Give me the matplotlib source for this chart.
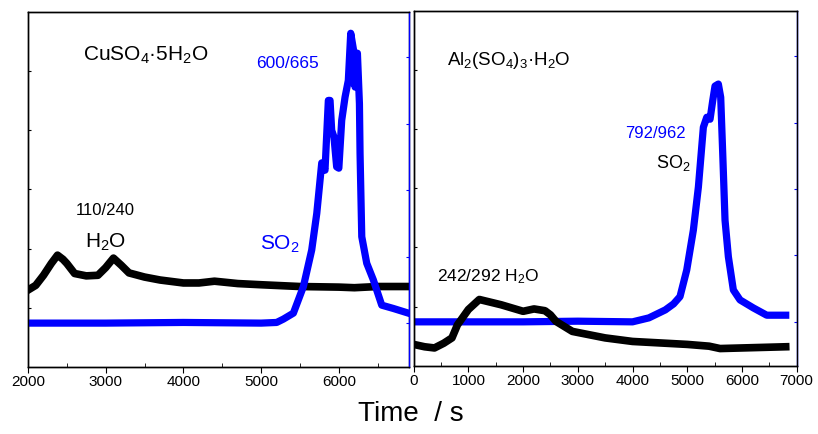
import matplotlib
matplotlib.use("Agg")
import matplotlib.pyplot as plt

plt.rcParams['font.family'] = ['Liberation Sans', 'DejaVu Sans']
plt.rcParams['mathtext.default'] = 'regular'

BLUE = '#0000ff'

# CuSO4.5H2O panel (time in s, arbitrary intensity units)
cu_h2o_t = [2000, 2100, 2200, 2300, 2380, 2450, 2500, 2600, 2750, 2900, 3000, 3100, 3200,
            3300, 3500, 3700, 4000, 4200, 4400, 4700, 5000, 5500, 6000, 6200, 6500, 6900]
cu_h2o_y = [1.30, 1.38, 1.55, 1.75, 1.89, 1.82, 1.75, 1.58, 1.54, 1.55, 1.68, 1.84, 1.72,
            1.59, 1.52, 1.47, 1.42, 1.42, 1.45, 1.41, 1.39, 1.36, 1.35, 1.34, 1.36, 1.36]

cu_so2_t = [2000, 3000, 4000, 5000, 5200, 5286, 5415, 5544, 5651, 5716, 5780, 5822,
            5865, 5887, 5908, 5937, 5972, 6000, 6037, 6080, 6122, 6153, 6196, 6209,
            6239, 6265, 6273, 6295, 6359, 6444, 6552, 6702, 6895]
cu_so2_y = [1.00, 1.00, 1.01, 1.00, 1.01, 1.06, 1.15, 1.55, 2.10, 2.65, 3.41, 3.30,
            4.35, 4.35, 3.90, 3.80, 3.35, 3.33, 4.05, 4.40, 4.65, 5.36, 5.06, 4.55,
            5.06, 4.30, 3.55, 2.30, 1.90, 1.65, 1.27, 1.22, 1.15]

# Al2(SO4)3.H2O panel
al_h2o_t = [0, 200, 380, 550, 700, 800, 1000, 1200, 1600, 2000, 2200, 2400, 2500,
            2600, 2900, 3500, 4000, 5000, 5400, 5600, 6000, 6800]
al_h2o_y = [0.36, 0.32, 0.30, 0.38, 0.47, 0.69, 0.95, 1.12, 1.03, 0.92, 0.96, 0.93,
            0.86, 0.75, 0.58, 0.47, 0.41, 0.36, 0.33, 0.29, 0.30, 0.32]

al_so2_t = [0, 1000, 2000, 3000, 4000, 4300, 4600, 4750, 4868, 4991, 5112, 5204,
            5295, 5357, 5417, 5466, 5508, 5569, 5612, 5649, 5691, 5752, 5843, 5965,
            6208, 6453, 6800]
al_so2_y = [1.00, 1.00, 1.00, 1.01, 1.00, 1.06, 1.18, 1.27, 1.38, 1.78, 2.38, 3.03,
            3.93, 4.08, 4.05, 4.33, 4.55, 4.58, 4.38, 3.53, 2.53, 1.98, 1.48, 1.33,
            1.21, 1.10, 1.10]

xticks_cu = [2000, 3000, 4000, 5000, 6000]
xticks_al = [0, 1000, 2000, 3000, 4000, 5000, 6000, 7000]


def style_panel(ax, axb, xlim, xticks):
    ax.set_xlim(*xlim)
    ax.set_ylim(0, 6)
    axb.set_ylim(0.34, 5.68)
    ax.set_xticks(xticks)
    ax.set_xticks(range(xlim[0] + 500, xlim[1], 1000), minor=True)
    ax.tick_params(axis='x', which='major', direction='out', length=4, labelsize=11, pad=2)
    ax.tick_params(axis='x', which='minor', direction='in', length=3)
    ax.set_yticks([1, 2, 3, 4, 5])
    ax.tick_params(axis='y', direction='in', length=2, labelleft=False)
    axb.set_yticks([1, 2, 3, 4, 5])
    axb.tick_params(axis='y', direction='in', length=2, colors=BLUE, labelright=False)
    for a in (ax, axb):
        for s in a.spines.values():
            s.set_linewidth(1.0)
    axb.spines['right'].set_color(BLUE)


fig = plt.figure(figsize=(8.18, 4.34), dpi=100)

# left panel
ax1 = fig.add_axes([0.0342, 0.1544, 0.4662, 0.818])
ax1b = ax1.twinx()
ax1b.plot(cu_so2_t, cu_so2_y, color=BLUE, lw=5.2)
ax1.plot(cu_h2o_t, cu_h2o_y, color='black', lw=5.5)
style_panel(ax1, ax1b, (2000, 6907), xticks_cu)

ax1.text(0.144, 0.862, r'CuSO$_4$·5H$_2$O', transform=ax1.transAxes, fontsize=15)
ax1.text(0.598, 0.842, '600/665', transform=ax1.transAxes, fontsize=12.5, color=BLUE)
ax1.text(0.126, 0.428, '110/240', transform=ax1.transAxes, fontsize=12)
ax1.text(0.149, 0.335, r'H$_2$O', transform=ax1.transAxes, fontsize=15)
ax1.text(0.608, 0.330, r'SO$_2$', transform=ax1.transAxes, fontsize=15, color=BLUE)

# right panel
ax2 = fig.add_axes([0.5057, 0.1574, 0.4682, 0.8173])
ax2b = ax2.twinx()
ax2b.plot(al_so2_t, al_so2_y, color=BLUE, lw=5.2)
ax2.plot(al_h2o_t, al_h2o_y, color='black', lw=5.5)
style_panel(ax2, ax2b, (0, 7000), xticks_al)
ax2b.set_zorder(1)
ax2.set_zorder(2)
ax2.patch.set_visible(False)

ax2.text(0.086, 0.848, r'Al$_2$(SO$_4$)$_3$·H$_2$O', transform=ax2.transAxes, fontsize=13.5)
ax2.text(0.552, 0.642, '792/962', transform=ax2.transAxes, fontsize=12, color=BLUE)
ax2.text(0.634, 0.557, r'SO$_2$', transform=ax2.transAxes, fontsize=13)
ax2.text(0.060, 0.237, r'242/292 H$_2$O', transform=ax2.transAxes, fontsize=12.5)

fig.text(0.502, 0.03, 'Time  / s', ha='center', va='baseline', fontsize=20)

fig.savefig('out.png', dpi=100)
